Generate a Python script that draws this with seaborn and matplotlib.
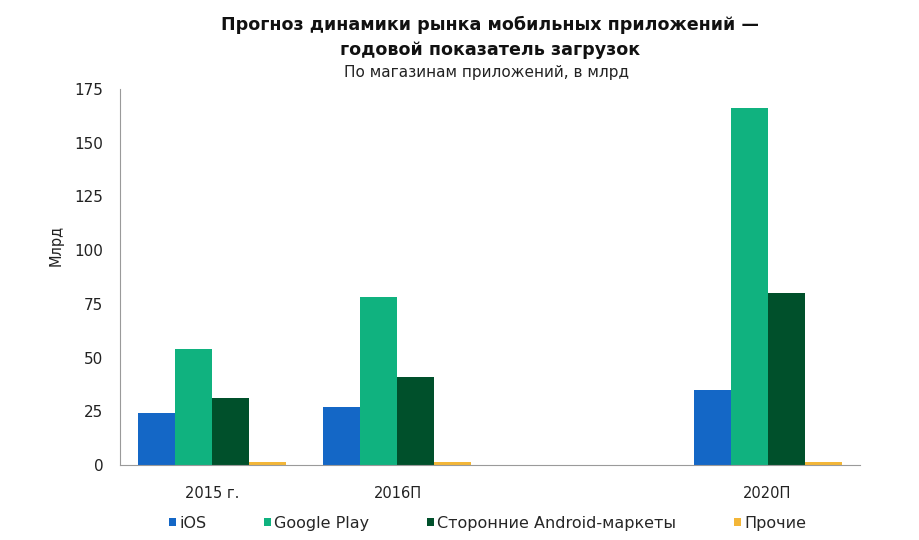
import pandas as pd
import matplotlib
matplotlib.use("Agg")
import matplotlib.pyplot as plt
import seaborn as sns

# Data (billions of downloads)
years = ["2015 г.", "2016П", "2020П"]
stores = ["iOS", "Google Play", "Сторонние Android-маркеты", "Прочие"]
ios = [24, 27, 35]
google_play = [54, 78, 166]
android_other = [31, 41, 80]
others = [1.5, 1.5, 1.5]

colors = ["#1467C6", "#10B27F", "#00502B", "#F3B638"]

rows = []
for store, vals in zip(stores, [ios, google_play, android_other, others]):
    for yr, v in zip(years, vals):
        rows.append({"year": yr, "store": store, "value": v})
df = pd.DataFrame(rows)

sns.set_style("white")
plt.rcParams["font.family"] = ["DejaVu Sans"]

fig = plt.figure(figsize=(9.2, 5.4), dpi=100)
ax = fig.add_axes([0.1304, 0.1389, 0.8044, 0.6963])

# empty slot between 2016 and 2020 keeps the gap
order = ["2015 г.", "2016П", " ", "2020П"]
sns.barplot(data=df, x="year", y="value", hue="store", order=order,
            hue_order=stores, palette=colors, saturation=1, width=0.8,
            linewidth=0, edgecolor="none", ax=ax, legend=True)

ax.set_ylim(0, 175)
ax.set_xlim(-0.5, 3.5)
ax.set_yticks(range(0, 176, 25))
ax.set_xlabel("")
ax.set_ylabel("Млрд", fontsize=10.5, color="#222222")
ax.yaxis.set_label_coords(-0.076, 0.585)
ax.tick_params(axis="both", length=0, colors="#222222")
ax.tick_params(axis="x", pad=15, labelsize=10.5)
ax.tick_params(axis="y", pad=12, labelsize=11)
for s in ["top", "right"]:
    ax.spines[s].set_visible(False)
for s in ["left", "bottom"]:
    ax.spines[s].set_color("#9a9a9a")
    ax.spines[s].set_linewidth(0.8)

handles, labels = ax.get_legend_handles_labels()
ax.legend_.remove()
fig.legend(handles, labels, loc="center", bbox_to_anchor=(0.530, 0.031),
           ncol=4, frameon=False, fontsize=11.5, handlelength=0.45,
           handleheight=0.45, handletextpad=0.2, columnspacing=3.6)

fig.text(0.5326, 1 - 25 / 540, "Прогноз динамики рынка мобильных приложений —",
         ha="center", va="center", fontsize=12.6, fontweight="bold", color="#111111")
fig.text(0.5326, 1 - 50 / 540, "годовой показатель загрузок",
         ha="center", va="center", fontsize=12.6, fontweight="bold", color="#111111")
fig.text(0.5283, 1 - 73 / 540, "По магазинам приложений, в млрд", ha="center",
         va="center", fontsize=11, color="#222222")

fig.savefig("out.png", dpi=100)
